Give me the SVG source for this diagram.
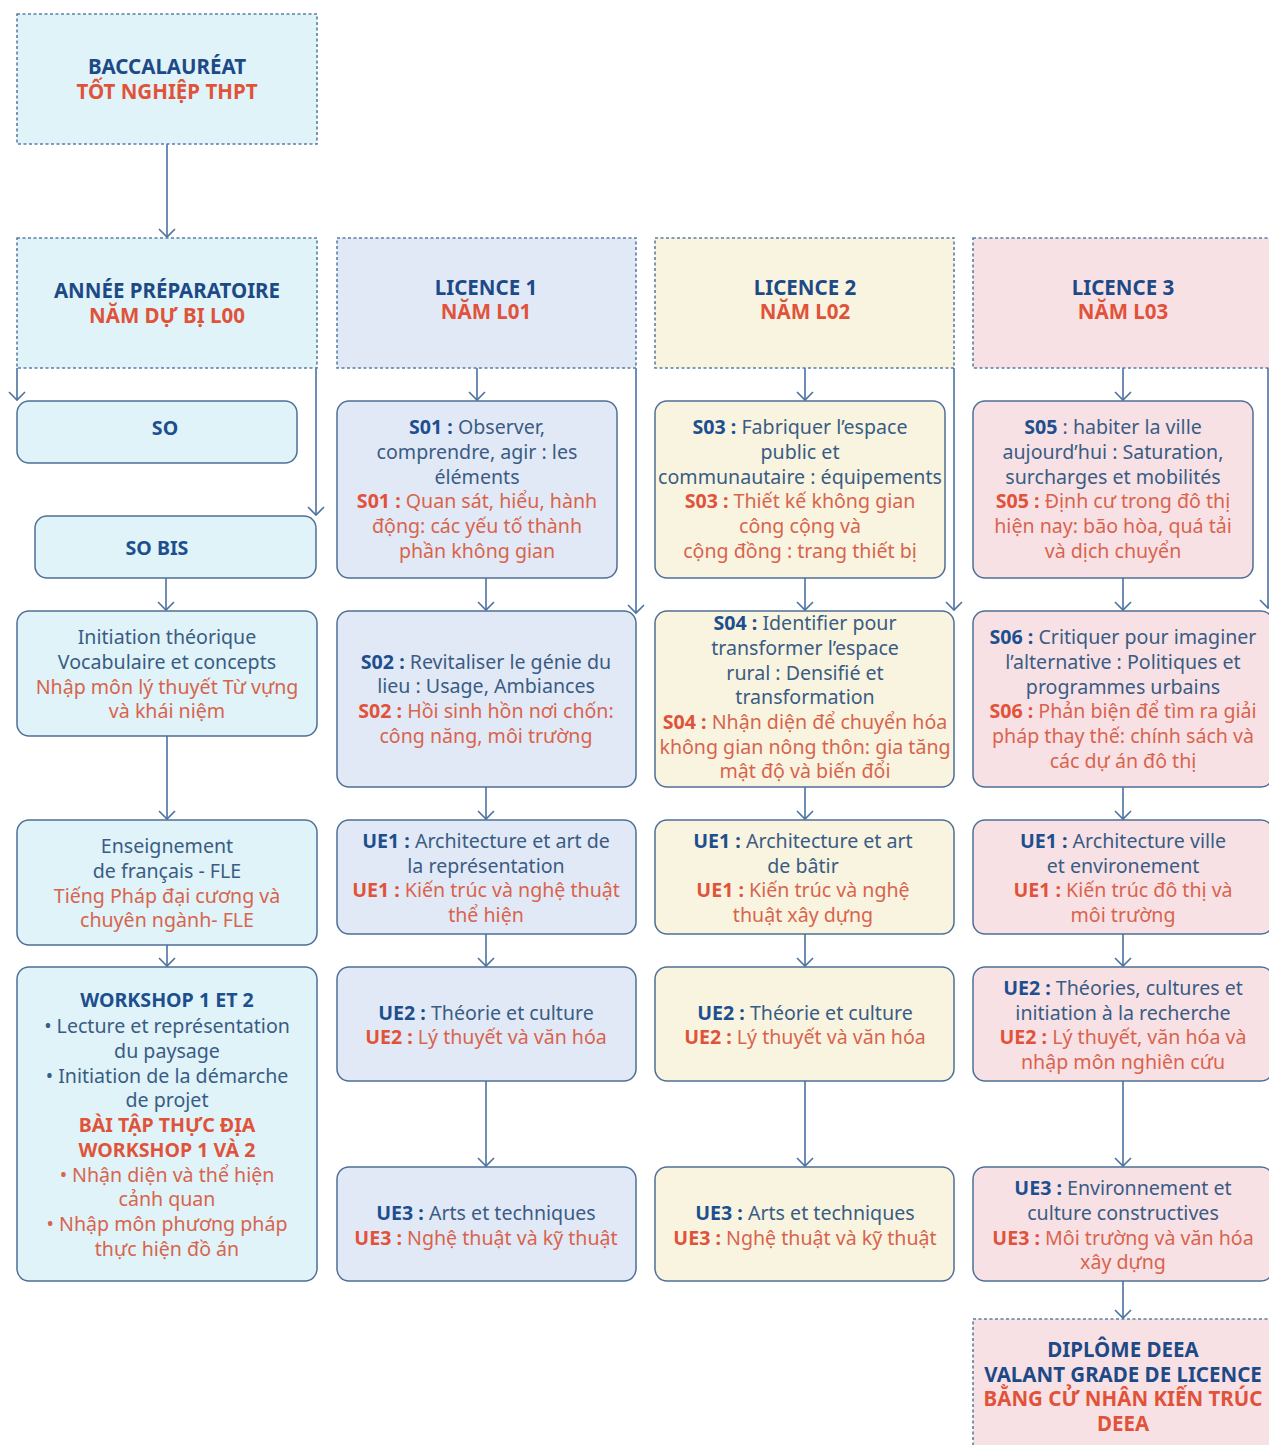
<svg xmlns="http://www.w3.org/2000/svg" width="1269" height="1445" viewBox="0 0 1269 1445">
<defs>
<marker id="arr" markerUnits="userSpaceOnUse" markerWidth="20" markerHeight="20" viewBox="-10 -10 12 20" refX="0" refY="0" orient="auto">
<path d="M-8,-8 L0,0 L-8,8" fill="none" stroke="#4c72a0" stroke-width="1.6"/>
</marker>
<style>
.hd{stroke:#5b7fa6;stroke-width:1.6;stroke-dasharray:3 2.5}
.bx{stroke:#4f6f96;stroke-width:1.5}
.c0{fill:#dff3f8}.c1{fill:#e2e9f6}.c2{fill:#f8f4e0}.c3{fill:#f8e1e5}
text{font-family:"Noto Sans","Open Sans","DejaVu Sans",sans-serif;font-size:19.6px;text-anchor:middle}
.b{font-weight:bold}
.hb{font-weight:bold;font-size:20.5px;fill:#1d4a86}
.hr{font-weight:bold;font-size:20.5px;fill:#e0533a}
.fb{fill:#3a5c84}
.fr{fill:#d8644d}
.kb{font-weight:bold;fill:#1d4f8f}
.kr{font-weight:bold;fill:#e0533a}
.cn{fill:none;stroke:#4c72a0;stroke-width:1.6;marker-end:url(#arr)}
</style>
</defs>
<rect width="1269" height="1445" fill="#ffffff"/>

<g id="connectors">
<path class="cn" d="M167,144 V237"/>
<path class="cn" d="M17,368 V400"/>
<path class="cn" d="M316,368 V515"/>
<path class="cn" d="M166,578 V610"/>
<path class="cn" d="M167,736 V819"/>
<path class="cn" d="M167,945 V966"/>

<path class="cn" d="M477,368 V400"/>
<path class="cn" d="M486,578 V610"/>
<path class="cn" d="M636,368 V613"/>
<path class="cn" d="M486,787 V819"/>
<path class="cn" d="M486,934 V966"/>
<path class="cn" d="M486,1081 V1166"/>

<path class="cn" d="M805,368 V400"/>
<path class="cn" d="M805,578 V610"/>
<path class="cn" d="M954,368 V610"/>
<path class="cn" d="M805,787 V819"/>
<path class="cn" d="M805,934 V966"/>
<path class="cn" d="M805,1081 V1166"/>

<path class="cn" d="M1123,368 V400"/>
<path class="cn" d="M1123,578 V610"/>
<path class="cn" d="M1268,368 V608"/>
<path class="cn" d="M1123,787 V819"/>
<path class="cn" d="M1123,934 V966"/>
<path class="cn" d="M1123,1081 V1166"/>
<path class="cn" d="M1123,1281 V1318"/>
</g>

<g id="bac">
<rect class="c0 hd" x="17" y="14" width="300" height="130"/>
<text x="167" y="74" class="hb">BACCALAURÉAT</text>
<text x="167" y="99" class="hr">TỐT NGHIỆP THPT</text>
</g>

<g id="annee">
<rect class="c0 hd" x="17" y="238" width="300" height="130"/>
<text x="167" y="298" class="hb">ANNÉE PRÉPARATOIRE</text>
<text x="167" y="323" class="hr">NĂM DỰ BỊ L00</text>
</g>
<g id="l1">
<rect class="c1 hd" x="337" y="238" width="299" height="130"/>
<text x="486" y="295" class="hb">LICENCE 1</text>
<text x="486" y="319" class="hr">NĂM L01</text>
</g>
<g id="l2">
<rect class="c2 hd" x="655" y="238" width="299" height="130"/>
<text x="805" y="295" class="hb">LICENCE 2</text>
<text x="805" y="319" class="hr">NĂM L02</text>
</g>
<g id="l3">
<rect class="c3 hd" x="973" y="238" width="300" height="130"/>
<text x="1123" y="295" class="hb">LICENCE 3</text>
<text x="1123" y="319" class="hr">NĂM L03</text>
</g>

<g id="so">
<rect class="c0 bx" x="17" y="401" width="280" height="62" rx="12"/>
<text x="165" y="435" class="kb">SO</text>
</g>
<g id="sobis">
<rect class="c0 bx" x="35" y="516" width="281" height="62" rx="12"/>
<text x="157" y="555" class="kb">SO BIS</text>
</g>
<g id="initiation">
<rect class="c0 bx" x="17" y="611" width="300" height="125" rx="12"/>
<text x="167" y="644" class="fb">Initiation théorique</text>
<text x="167" y="669" class="fb">Vocabulaire et concepts</text>
<text x="167" y="694" class="fr">Nhập môn lý thuyết Từ vựng</text>
<text x="167" y="718" class="fr">và khái niệm</text>
</g>
<g id="fle">
<rect class="c0 bx" x="17" y="820" width="300" height="125" rx="12"/>
<text x="167" y="853" class="fb">Enseignement</text>
<text x="167" y="878" class="fb">de français - FLE</text>
<text x="167" y="903" class="fr">Tiếng Pháp đại cương và</text>
<text x="167" y="927" class="fr">chuyên ngành- FLE</text>
</g>
<g id="workshop">
<rect class="c0 bx" x="17" y="967" width="300" height="314" rx="12"/>
<text x="167" y="1007" class="kb">WORKSHOP 1 ET 2</text>
<text x="167" y="1033" class="fb">• Lecture et représentation</text>
<text x="167" y="1058" class="fb">du paysage</text>
<text x="167" y="1083" class="fb">• Initiation de la démarche</text>
<text x="167" y="1107" class="fb">de projet</text>
<text x="167" y="1132" class="kr">BÀI TẬP THỰC ĐỊA</text>
<text x="167" y="1157" class="kr">WORKSHOP 1 VÀ 2</text>
<text x="167" y="1182" class="fr">• Nhận diện và thể hiện</text>
<text x="167" y="1206" class="fr">cảnh quan</text>
<text x="167" y="1231" class="fr">• Nhập môn phương pháp</text>
<text x="167" y="1256" class="fr">thực hiện đồ án</text>
</g>

<g id="s01">
<rect class="c1 bx" x="337" y="401" width="280" height="177" rx="12"/>
<text x="477" y="434" class="fb"><tspan class="kb">S01 :</tspan> Observer,</text>
<text x="477" y="459" class="fb">comprendre, agir : les</text>
<text x="477" y="484" class="fb">éléments</text>
<text x="477" y="508" class="fr"><tspan class="kr">S01 :</tspan> Quan sát, hiểu, hành</text>
<text x="477" y="533" class="fr">động: các yếu tố thành</text>
<text x="477" y="558" class="fr">phần không gian</text>
</g>
<g id="s02">
<rect class="c1 bx" x="337" y="611" width="299" height="176" rx="12"/>
<text x="486" y="669" class="fb"><tspan class="kb">S02 :</tspan>  Revitaliser le génie du</text>
<text x="486" y="693" class="fb">lieu : Usage, Ambiances</text>
<text x="486" y="718" class="fr"><tspan class="kr">S02 :</tspan> Hồi sinh hồn nơi chốn:</text>
<text x="486" y="743" class="fr">công năng, môi trường</text>
</g>
<g id="l1ue1">
<rect class="c1 bx" x="337" y="820" width="299" height="114" rx="12"/>
<text x="486" y="848" class="fb"><tspan class="kb">UE1 :</tspan> Architecture et art de</text>
<text x="486" y="873" class="fb">la représentation</text>
<text x="486" y="897" class="fr"><tspan class="kr">UE1 :</tspan> Kiến trúc và nghệ thuật</text>
<text x="486" y="922" class="fr">thể hiện</text>
</g>
<g id="l1ue2">
<rect class="c1 bx" x="337" y="967" width="299" height="114" rx="12"/>
<text x="486" y="1020" class="fb"><tspan class="kb">UE2 :</tspan> Théorie et culture</text>
<text x="486" y="1044" class="fr"><tspan class="kr">UE2 :</tspan> Lý thuyết và văn hóa</text>
</g>
<g id="l1ue3">
<rect class="c1 bx" x="337" y="1167" width="299" height="114" rx="12"/>
<text x="486" y="1220" class="fb"><tspan class="kb">UE3 :</tspan> Arts et techniques</text>
<text x="486" y="1245" class="fr"><tspan class="kr">UE3 :</tspan> Nghệ thuật và kỹ thuật</text>
</g>

<g id="s03">
<rect class="c2 bx" x="655" y="401" width="290" height="177" rx="12"/>
<text x="800" y="434" class="fb"><tspan class="kb">S03 :</tspan> Fabriquer l’espace</text>
<text x="800" y="459" class="fb">public et</text>
<text x="800" y="484" class="fb">communautaire : équipements</text>
<text x="800" y="508" class="fr"><tspan class="kr">S03 :</tspan> Thiết kế không gian</text>
<text x="800" y="533" class="fr">công cộng và</text>
<text x="800" y="558" class="fr">cộng đồng : trang thiết bị</text>
</g>
<g id="s04">
<rect class="c2 bx" x="655" y="611" width="299" height="176" rx="12"/>
<text x="805" y="630" class="fb"><tspan class="kb">S04 :</tspan> Identifier pour</text>
<text x="805" y="655" class="fb">transformer l’espace</text>
<text x="805" y="680" class="fb">rural : Densifié et</text>
<text x="805" y="704" class="fb">transformation</text>
<text x="805" y="729" class="fr"><tspan class="kr">S04 :</tspan> Nhận diện để chuyển hóa</text>
<text x="805" y="754" class="fr">không gian nông thôn: gia tăng</text>
<text x="805" y="778" class="fr">mật độ và biến đổi</text>
</g>
<g id="l2ue1">
<rect class="c2 bx" x="655" y="820" width="299" height="114" rx="12"/>
<text x="803" y="848" class="fb"><tspan class="kb">UE1 :</tspan> Architecture et art</text>
<text x="803" y="873" class="fb">de bâtir</text>
<text x="803" y="897" class="fr"><tspan class="kr">UE1 :</tspan> Kiến trúc và nghệ</text>
<text x="803" y="922" class="fr">thuật xây dựng</text>
</g>
<g id="l2ue2">
<rect class="c2 bx" x="655" y="967" width="299" height="114" rx="12"/>
<text x="805" y="1020" class="fb"><tspan class="kb">UE2 :</tspan> Théorie et culture</text>
<text x="805" y="1044" class="fr"><tspan class="kr">UE2 :</tspan> Lý thuyết và văn hóa</text>
</g>
<g id="l2ue3">
<rect class="c2 bx" x="655" y="1167" width="299" height="114" rx="12"/>
<text x="805" y="1220" class="fb"><tspan class="kb">UE3 :</tspan> Arts et techniques</text>
<text x="805" y="1245" class="fr"><tspan class="kr">UE3 :</tspan> Nghệ thuật và kỹ thuật</text>
</g>

<g id="s05">
<rect class="c3 bx" x="973" y="401" width="280" height="177" rx="12"/>
<text x="1113" y="434" class="fb"><tspan class="kb">S05</tspan> : habiter la ville</text>
<text x="1113" y="459" class="fb">aujourd’hui : Saturation,</text>
<text x="1113" y="484" class="fb">surcharges et mobilités</text>
<text x="1113" y="508" class="fr"><tspan class="kr">S05 :</tspan> Định cư trong đô thị</text>
<text x="1113" y="533" class="fr">hiện nay: bão hòa, quá tải</text>
<text x="1113" y="558" class="fr">và dịch chuyển</text>
</g>
<g id="s06">
<rect class="c3 bx" x="973" y="611" width="300" height="176" rx="12"/>
<text x="1123" y="644" class="fb"><tspan class="kb">S06 :</tspan> Critiquer pour imaginer</text>
<text x="1123" y="669" class="fb">l’alternative : Politiques et</text>
<text x="1123" y="694" class="fb">programmes urbains</text>
<text x="1123" y="718" class="fr"><tspan class="kr">S06 :</tspan> Phản biện để tìm ra giải</text>
<text x="1123" y="743" class="fr">pháp thay thế: chính sách và</text>
<text x="1123" y="768" class="fr">các dự án đô thị</text>
</g>
<g id="l3ue1">
<rect class="c3 bx" x="973" y="820" width="300" height="114" rx="12"/>
<text x="1123" y="848" class="fb"><tspan class="kb">UE1 :</tspan> Architecture ville</text>
<text x="1123" y="873" class="fb">et environement</text>
<text x="1123" y="897" class="fr"><tspan class="kr">UE1 :</tspan> Kiến trúc đô thị và</text>
<text x="1123" y="922" class="fr">môi trường</text>
</g>
<g id="l3ue2">
<rect class="c3 bx" x="973" y="967" width="300" height="114" rx="12"/>
<text x="1123" y="995" class="fb"><tspan class="kb">UE2 :</tspan> Théories, cultures et</text>
<text x="1123" y="1020" class="fb">initiation à la recherche</text>
<text x="1123" y="1044" class="fr"><tspan class="kr">UE2 :</tspan> Lý thuyết, văn hóa và</text>
<text x="1123" y="1069" class="fr">nhập môn nghiên cứu</text>
</g>
<g id="l3ue3">
<rect class="c3 bx" x="973" y="1167" width="300" height="114" rx="12"/>
<text x="1123" y="1195" class="fb"><tspan class="kb">UE3 :</tspan> Environnement et</text>
<text x="1123" y="1220" class="fb">culture constructives</text>
<text x="1123" y="1245" class="fr"><tspan class="kr">UE3 :</tspan> Môi trường và văn hóa</text>
<text x="1123" y="1269" class="fr">xây dựng</text>
</g>
<g id="diplome">
<rect class="c3 hd" x="973" y="1319" width="300" height="140"/>
<text x="1123" y="1357" class="hb">DIPLÔME DEEA</text>
<text x="1123" y="1382" class="hb">VALANT GRADE DE LICENCE</text>
<text x="1123" y="1406" class="hr">BẰNG CỬ NHÂN KIẾN TRÚC</text>
<text x="1123" y="1431" class="hr">DEEA</text>
</g>
</svg>
